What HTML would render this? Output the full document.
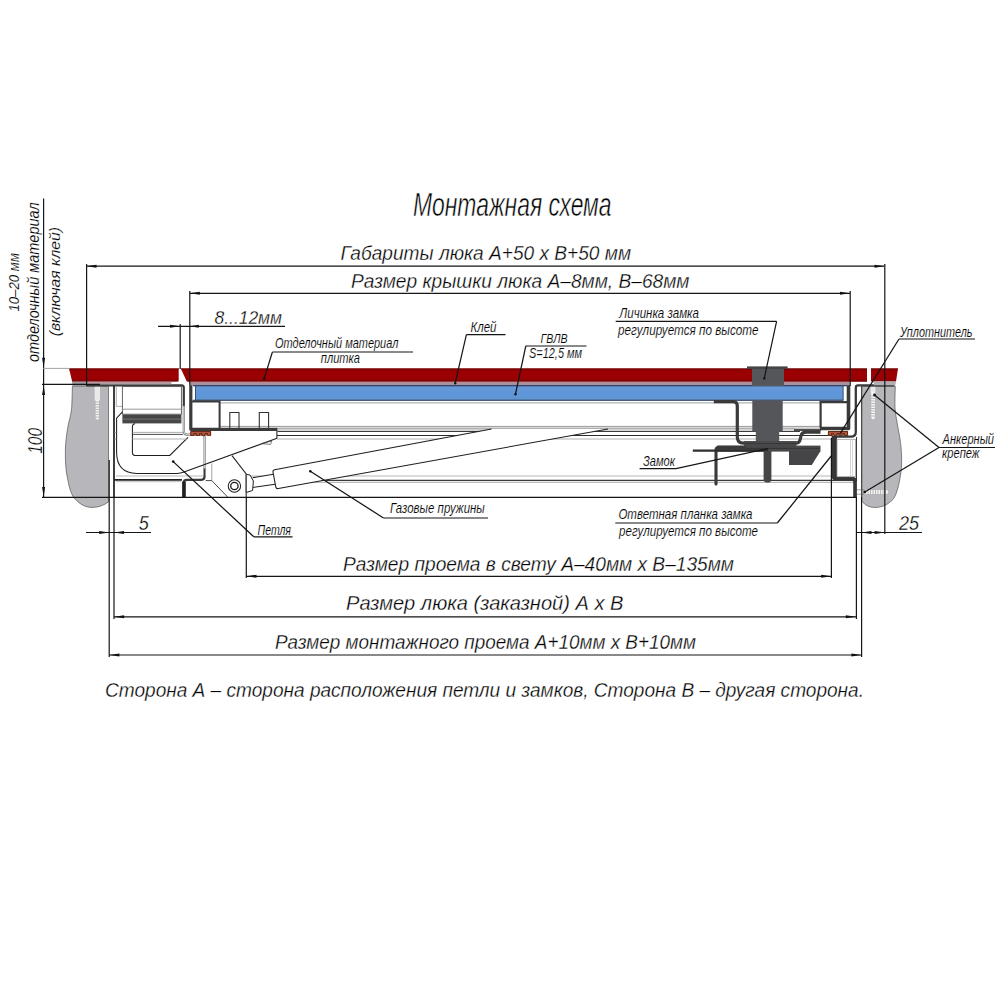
<!DOCTYPE html>
<html><head><meta charset="utf-8"><title>Монтажная схема</title>
<style>
html,body{margin:0;padding:0;background:#fff;}
body{width:1000px;height:1000px;overflow:hidden;}
svg{display:block;}
text{font-family:"Liberation Sans",sans-serif;font-style:italic;fill:#000;}
</style></head><body>
<svg width="1000" height="1000" viewBox="0 0 1000 1000">
<rect width="1000" height="1000" fill="#fff"/>
<path d="M72.4,386.3 C72.2,395 72,402 71.7,408 C71,414 70,418 68.9,422 C67.8,427 67,432 66.5,436 C65.8,442 65.4,446 65.4,450 C65.3,456 65.4,460 65.7,464 C66,470 66.6,474 67.5,478 C68.5,484 69.5,488 71,492 C72.5,496 74,498.5 76.6,500.4 C81,505 86,507.4 92,507.4 C99,507.4 104.5,505 108.5,501.8 L108.5,386.3 Z" fill="#b7b7bb" stroke="#555" stroke-width="0.7"/>
<path d="M861.7,386.3 L895.3,386.3 C895,395 894.8,402 895,408 C895.5,414 896.2,418 897,422 C898,428 898.8,432 899.5,436 C900.5,442 901,446 901.2,450 C901.6,455 901.8,460 901.6,464 C901.4,470 900.8,474 900,478 C899,484 898,488 896.7,492 C895,497 893,500 890.4,501.8 C886,505.5 881,507.5 875,507.5 C869,507.5 865,505 862.4,501.8 L861.7,501 Z" fill="#b7b7bb" stroke="#555" stroke-width="0.7"/>
<rect x="94.6" y="386.5" width="5.4" height="14" fill="#e9e9e9"/>
<path d="M95.6,400 L99,400 L99,418.5 L97.3,420 L95.6,418.5 Z" fill="#f2f2f2"/>
<path d="M95.2,402 h4.2 M95.2,404.5 h4.2 M95.2,407 h4.2 M95.2,409.5 h4.2 M95.2,412 h4.2 M95.2,414.5 h4.2 M95.2,417 h4.2" stroke="#a8a8a8" stroke-width="0.8"/>
<rect x="870.6" y="386.5" width="4.8" height="6" fill="#e9e9e9"/>
<path d="M871.2,392 L875,392 L875,418 L873.1,419.5 L871.2,418 Z" fill="#f4f4f4"/>
<path d="M870.8,396 h4.6 M870.8,398.5 h4.6 M870.8,401 h4.6 M870.8,403.5 h4.6 M870.8,406 h4.6 M870.8,408.5 h4.6 M870.8,411 h4.6 M870.8,413.5 h4.6 M870.8,416 h4.6" stroke="#a8a8a8" stroke-width="0.8"/>
<path d="M864,490 L887,490 L888.5,492 L887,494 L864,494 Z" fill="#f4f4f4"/>
<path d="M857,489.8 H864 M857,494.2 H864" stroke="#777" stroke-width="0.7" fill="none"/>
<path d="M868,489.6 v4.8 M870.5,489.6 v4.8 M873,489.6 v4.8 M875.5,489.6 v4.8 M878,489.6 v4.8 M880.5,489.6 v4.8 M883,489.6 v4.8 M885.5,489.6 v4.8" stroke="#a8a8a8" stroke-width="0.8"/>
<line x1="220" y1="402.8" x2="820" y2="402.8" stroke="#aeb6bd" stroke-width="1.2" />
<line x1="219" y1="426.4" x2="820" y2="426.4" stroke="#9a9a9a" stroke-width="1" />
<rect x="277.5" y="428" width="517" height="3.2" fill="#d4d4d4"/>
<line x1="277.5" y1="428.1" x2="820" y2="428.1" stroke="#8a8a8a" stroke-width="0.8" />
<line x1="277.5" y1="431.5" x2="800" y2="431.5" stroke="#3c3c3c" stroke-width="1" />
<line x1="277" y1="435.5" x2="833" y2="435.5" stroke="#2c2c2c" stroke-width="1.1" />
<line x1="277" y1="439" x2="833" y2="439" stroke="#b0b0b0" stroke-width="1" />
<line x1="116" y1="476" x2="856" y2="476" stroke="#cfcfcf" stroke-width="1.5" />
<line x1="246" y1="480.4" x2="856" y2="480.4" stroke="#3a3a3a" stroke-width="1.2" />
<line x1="246" y1="482.3" x2="856" y2="482.3" stroke="#a0a0a0" stroke-width="0.9" />
<path d="M87,385.3 L181.5,385.3 Q183.8,385.3 183.8,387.6 L183.8,406.5" fill="none" stroke="#3a3a3a" stroke-width="2.2"/>
<path d="M183.8,406 L183.8,431 Q183.8,434.6 187.4,434.6 L201.6,434.6 Q204.6,434.6 204.6,437.6 L204.6,469" fill="none" stroke="#777" stroke-width="2.2"/>
<path d="M183.8,406 L183.8,431 Q183.8,434.6 187.4,434.6 L201.6,434.6 Q204.6,434.6 204.6,437.6 L204.6,469" fill="none" stroke="#e4e4e4" stroke-width="0.9"/>
<path d="M204.6,468.5 L204.6,476.6 Q204.6,479.8 201.4,479.8 L187,479.8 Q183.6,479.8 183.6,483 L183.6,497" fill="none" stroke="#3a3a3a" stroke-width="2.2"/>
<rect x="182.2" y="481.5" width="3.6" height="15.5" fill="#222"/>
<line x1="114" y1="386" x2="114" y2="497" stroke="#1c1c1c" stroke-width="1.7" />
<line x1="116.3" y1="387" x2="116.3" y2="406.4" stroke="#9a9a9a" stroke-width="0.8" />
<line x1="116.3" y1="406.4" x2="122.4" y2="406.4" stroke="#9a9a9a" stroke-width="0.8" />
<rect x="122.4" y="386.6" width="59" height="27.6" fill="#fff" stroke="#555" stroke-width="0.9"/>
<line x1="122.4" y1="409.2" x2="181.4" y2="409.2" stroke="#8c8c8c" stroke-width="0.9" />
<rect x="122.4" y="414.6" width="59" height="8.8" fill="#474747"/>
<line x1="122.4" y1="419.1" x2="181.4" y2="419.1" stroke="#7b7b7b" stroke-width="0.9" />
<path d="M122.4,411.8 L116.6,418.2 L116.6,452 Q116.6,473.4 137,473.4 L177,473.4 Q180.5,473.4 184,472 L277,438.3" fill="none" stroke="#1e1e1e" stroke-width="1.05"/>
<path d="M188,437.4 L169.8,455.4 L135,455.4 Q132.4,455.4 132.4,452.8 L132.4,427 Q132.4,423.8 135.2,423.8" fill="none" stroke="#1e1e1e" stroke-width="1.05"/>
<line x1="132.4" y1="432.4" x2="183" y2="432.4" stroke="#9a9a9a" stroke-width="0.8" />
<line x1="132.4" y1="434.4" x2="183" y2="434.4" stroke="#3a3a3a" stroke-width="0.9" />
<line x1="132.4" y1="439" x2="187" y2="439" stroke="#aaaaaa" stroke-width="0.9" />
<line x1="114" y1="432.4" x2="116.6" y2="432.4" stroke="#777" stroke-width="0.8" />
<line x1="114" y1="439" x2="116.6" y2="439" stroke="#777" stroke-width="0.8" />
<line x1="114" y1="479.8" x2="182" y2="479.8" stroke="#222" stroke-width="1.8" />
<line x1="116" y1="481.7" x2="181" y2="481.7" stroke="#b0b0b0" stroke-width="0.8" />
<polygon points="205.8,465.5 232,455.6 246.2,474 246.2,496.8 227.6,496.8 211.8,480.6 205.8,480.6" fill="#fff"/>
<path d="M232,455.6 L246.2,474 L246.2,497" fill="none" stroke="#1e1e1e" stroke-width="1.05"/>
<path d="M211.8,463.5 L211.8,480.6" fill="none" stroke="#9a9a9a" stroke-width="0.9"/>
<path d="M205.6,480.6 L211.8,480.6 L227.6,497" fill="none" stroke="#333" stroke-width="0.9"/>
<circle cx="234.4" cy="486" r="6.2" fill="#fff" stroke="#1e1e1e" stroke-width="1.05"/>
<circle cx="234.4" cy="486" r="3.7" fill="#fff" stroke="#1a1a1a" stroke-width="1.3"/>
<path d="M252.6,477.7 L273.5,474.3 L276.8,484 L252.6,487.4 Z" fill="#fff" stroke="none"/>
<path d="M252.6,477.7 L273.5,474.3 M252.6,487.4 L277,484" fill="none" stroke="#1e1e1e" stroke-width="1.05"/>
<path d="M246.2,474.4 L250,475 L253.4,481 L252.6,490.5 L246.2,492.5 Z" fill="#fff" stroke="#222" stroke-width="1"/>
<path d="M491.5,429 L274.6,469.7 Q272.6,470.2 273,472.2 L275.8,487 Q276.3,489 278.4,488.5 L608,429" fill="#fff" stroke="#1e1e1e" stroke-width="1.05"/>
<defs><linearGradient id="bg" x1="0" y1="0" x2="0" y2="1"><stop offset="0" stop-color="#6a9ad4"/><stop offset="0.55" stop-color="#5d96dc"/><stop offset="1" stop-color="#6396cc"/></linearGradient></defs>
<rect x="195.6" y="386" width="647.4" height="14.2" fill="url(#bg)"/>
<line x1="193" y1="385.7" x2="849" y2="385.7" stroke="#1b2b52" stroke-width="1.2" />
<line x1="193" y1="400.3" x2="843.5" y2="400.3" stroke="#1b2b52" stroke-width="1.1" />
<line x1="195.5" y1="386" x2="195.5" y2="400" stroke="#1b2b52" stroke-width="0.8" />
<line x1="843.2" y1="386" x2="843.2" y2="400" stroke="#1b2b52" stroke-width="0.8" />
<path d="M190.8,385 L190.8,429.3 L277.5,429.3" fill="none" stroke="#3a3a3a" stroke-width="3.2" stroke-linejoin="round"/>
<path d="M192,401.6 L219.6,401.6 L219.6,428" fill="none" stroke="#3a3a3a" stroke-width="2"/>
<path d="M229.8,428 V412.5 H239 V428 M259.3,428 V412.5 H268.6 V428" fill="none" stroke="#333" stroke-width="1.1"/>
<path d="M276.9,431 L276.9,438.3" stroke="#1e1e1e" stroke-width="1.05" fill="none"/>
<path d="M261.2,443.6 L271.6,441 L270.6,444.4 Z" fill="none" stroke="#444" stroke-width="0.7"/>
<rect x="190.4" y="431" width="20.7" height="4.6" fill="#b85a40"/>
<path d="M190.6,431.6 h20.3 M190.8,432 v3.4 h3 v-1.8 h2.6 v1.8 h3 v-1.8 h2.6 v1.8 h3 v-1.8 h2.6 v1.8 h3 v-3.4" fill="none" stroke="#55200f" stroke-width="0.9"/>
<path d="M848.5,385 L848.5,428.5 L820,428.5" fill="none" stroke="#3a3a3a" stroke-width="3.6" stroke-linejoin="round"/>
<line x1="794" y1="430" x2="821" y2="430" stroke="#3a3a3a" stroke-width="1.8" />
<path d="M848,402.2 L820.6,402.2 L820.6,428" fill="none" stroke="#3a3a3a" stroke-width="2.2"/>
<rect x="828" y="431" width="20" height="4.6" fill="#b85a40"/>
<path d="M828.2,431.6 h19.6 M828.4,432 v3.4 h3 v-1.8 h2.4 v1.8 h3 v-1.8 h2.4 v1.8 h3 v-1.8 h2.4 v1.8 h3 v-3.4" fill="none" stroke="#55200f" stroke-width="0.9"/>
<path d="M894.5,385.4 L858,385.4 Q855.8,385.4 855.8,387.7 L855.8,432 Q855.8,436.6 851,436.6 L835,436.6" fill="none" stroke="#3a3a3a" stroke-width="2.3"/>
<path d="M831.6,436 L837,436 L837,477 L853,477 Q856.9,477 856.9,481 L856.9,497 L853.2,497 L853.2,482 Q853.2,480.2 851.5,480.2 L835.5,480.2 Q831.6,480.2 831.6,476.5 Z" fill="#363636"/>
<rect x="837" y="439.3" width="18.6" height="37.4" fill="#fff" stroke="#9a9a9a" stroke-width="0.8"/>
<line x1="850.5" y1="439.5" x2="850.5" y2="476.5" stroke="#c8c8c8" stroke-width="0.8" />
<line x1="852.6" y1="439.5" x2="852.6" y2="476.5" stroke="#c8c8c8" stroke-width="0.8" />
<line x1="861.6" y1="386" x2="861.6" y2="497" stroke="#4a4a4a" stroke-width="1.2" />
<line x1="861.6" y1="497" x2="861.6" y2="657" stroke="#151515" stroke-width="1.2" />
<path d="M713.8,401.6 L733,401.6 Q737.3,401.6 737.3,406 L737.3,437 Q737.3,443.2 743.5,443.2 L795.5,443.2 Q799.5,443.2 800.3,439 L801,436 Q801.8,432.2 806,432.2 L820.5,432.2" fill="none" stroke="#3a3a3a" stroke-width="3.2"/>
<rect x="752.3" y="400.6" width="30.4" height="30.8" fill="#55565a"/>
<rect x="755.8" y="431" width="23.4" height="10.5" fill="#55565a"/>
<rect x="744" y="441" width="52.5" height="5.2" fill="#4a4a4c"/>
<rect x="717" y="445.6" width="103.5" height="6" fill="#48484a"/>
<line x1="744" y1="443.6" x2="796" y2="443.6" stroke="#2c2c2c" stroke-width="0.7" />
<line x1="717" y1="448.4" x2="820" y2="448.4" stroke="#2c2c2c" stroke-width="0.7" />
<path d="M744,447.4 L719,447.4 Q716,447.4 716,450.4 L716,484" fill="none" stroke="#3a3a3a" stroke-width="3.1" stroke-linecap="round"/>
<line x1="692.8" y1="450.6" x2="768" y2="450.6" stroke="#2e2e2e" stroke-width="2.4" />
<path d="M763.6,451 L771.4,451 L771.4,479.5 Q771.4,482.6 767.5,482.6 Q763.6,482.6 763.6,479.5 Z" fill="#454547"/>
<path d="M789,451 L820.5,451 L811.8,465 L789,465 Z" fill="#454547"/>
<rect x="752" y="368.5" width="32" height="17.4" fill="#55565a"/>
<defs><linearGradient id="rg" x1="0" y1="0" x2="0" y2="1"><stop offset="0" stop-color="#7c0507"/><stop offset="0.22" stop-color="#9b0002"/><stop offset="0.75" stop-color="#9b0002"/><stop offset="1" stop-color="#7c0507"/></linearGradient><linearGradient id="pg" x1="0" y1="0" x2="0" y2="1"><stop offset="0" stop-color="#bf8a92"/><stop offset="1" stop-color="#9a93a6"/></linearGradient></defs>
<path d="M69,368.5 L178.7,368.5 L178.7,380.4 Q178.7,381.6 177.5,381.6 L72.2,381.6 Z" fill="url(#rg)"/>
<polygon points="72.2,381.6 171.4,381.6 171.4,384.2 72.8,384.2" fill="#b79a9f"/>
<rect x="72.4" y="382" width="13.5" height="4.2" fill="#9c9a9e"/>
<polygon points="180.8,368.5 867,368.5 867,381.6 186.8,381.6" fill="url(#rg)"/>
<polygon points="189.6,381.6 849.8,381.6 849.8,385.3 189.6,385.3" fill="url(#pg)"/>
<polygon points="871,368.5 898,368.5 896,381.6 871,381.6" fill="url(#rg)"/>
<polygon points="873.6,381.6 896,381.6 895.3,385.2 873.6,385.2" fill="#b3aeb2"/>
<line x1="69" y1="368.9" x2="179" y2="368.9" stroke="#7a0808" stroke-width="0.9" />
<line x1="181" y1="368.9" x2="867" y2="368.9" stroke="#7a0808" stroke-width="0.9" />
<line x1="871" y1="368.9" x2="898" y2="368.9" stroke="#7a0808" stroke-width="0.9" />
<line x1="72" y1="381.2" x2="177.5" y2="381.2" stroke="#7a0808" stroke-width="0.6" />
<line x1="187.5" y1="381.2" x2="867" y2="381.2" stroke="#7a0808" stroke-width="0.9" />
<rect x="752" y="368.5" width="32" height="17.2" fill="#55565a"/>
<rect x="747" y="366.4" width="40.6" height="2.6" fill="#444446"/>
<line x1="43.6" y1="198.5" x2="43.6" y2="497.5" stroke="#151515" stroke-width="1.2" />
<polygon points="43.6,367.8 42.1,357.8 45.1,357.8" fill="#111"/>
<polygon points="43.6,385 42.1,395 45.1,395" fill="#111"/>
<polygon points="43.6,497 42.1,487 45.1,487" fill="#111"/>
<line x1="43" y1="368.4" x2="70" y2="368.4" stroke="#9a9a9a" stroke-width="0.9" />
<line x1="42" y1="384.4" x2="100" y2="384.4" stroke="#151515" stroke-width="1.2" />
<line x1="42" y1="497.4" x2="856.8" y2="497.4" stroke="#151515" stroke-width="1.2" />
<line x1="86.5" y1="266.2" x2="884.5" y2="266.2" stroke="#151515" stroke-width="1.2" />
<polygon points="86.5,266.2 96.5,264.7 96.5,267.7" fill="#111"/>
<polygon points="884.5,266.2 874.5,264.7 874.5,267.7" fill="#111"/>
<line x1="86.6" y1="264" x2="86.6" y2="386" stroke="#151515" stroke-width="1.2" />
<line x1="884.8" y1="264" x2="884.8" y2="534" stroke="#151515" stroke-width="1.2" />
<line x1="189.8" y1="293.3" x2="850" y2="293.3" stroke="#151515" stroke-width="1.2" />
<polygon points="189.8,293.3 199.8,291.8 199.8,294.8" fill="#111"/>
<polygon points="850,293.3 840,291.8 840,294.8" fill="#111"/>
<line x1="189.8" y1="291" x2="189.8" y2="385" stroke="#151515" stroke-width="1.2" />
<line x1="850.2" y1="291" x2="850.2" y2="386" stroke="#151515" stroke-width="1.2" />
<line x1="158" y1="326.3" x2="285" y2="326.3" stroke="#151515" stroke-width="1.2" />
<polygon points="180,326.3 170,324.8 170,327.8" fill="#111"/>
<polygon points="189.8,326.3 198.8,324.8 198.8,327.8" fill="#111"/>
<line x1="180.2" y1="324" x2="180.2" y2="369" stroke="#151515" stroke-width="1.2" />
<line x1="86" y1="532.5" x2="151" y2="532.5" stroke="#151515" stroke-width="1.2" />
<polygon points="109.2,532.5 99.2,531.0 99.2,534.0" fill="#111"/>
<polygon points="114,532.5 124,531.0 124,534.0" fill="#111"/>
<line x1="109.2" y1="460" x2="109.2" y2="657" stroke="#151515" stroke-width="1.2" />
<line x1="114" y1="497" x2="114" y2="619" stroke="#151515" stroke-width="1.2" />
<line x1="857" y1="532.5" x2="922" y2="532.5" stroke="#151515" stroke-width="1.2" />
<polygon points="861.5,532.5 871.5,531.0 871.5,534.0" fill="#111"/>
<polygon points="884.6,532.5 874.6,531.0 874.6,534.0" fill="#111"/>
<line x1="856.5" y1="437" x2="856.5" y2="481" stroke="#222" stroke-width="0.9" />
<line x1="856.4" y1="497" x2="856.4" y2="619" stroke="#151515" stroke-width="1.2" />
<line x1="246.3" y1="497" x2="246.3" y2="578" stroke="#151515" stroke-width="1.2" />
<line x1="831.4" y1="438" x2="831.4" y2="578" stroke="#151515" stroke-width="1.2" />
<line x1="246.3" y1="576.3" x2="831.4" y2="576.3" stroke="#151515" stroke-width="1.2" />
<polygon points="246.5,576.3 256.5,574.8 256.5,577.8" fill="#111"/>
<polygon points="831.2,576.3 821.2,574.8 821.2,577.8" fill="#111"/>
<line x1="114" y1="616.8" x2="856" y2="616.8" stroke="#151515" stroke-width="1.2" />
<polygon points="114.2,616.8 124.2,615.3 124.2,618.3" fill="#111"/>
<polygon points="855.8,616.8 845.8,615.3 845.8,618.3" fill="#111"/>
<line x1="109.2" y1="655" x2="861.6" y2="655" stroke="#151515" stroke-width="1.2" />
<polygon points="109.4,655 119.4,653.5 119.4,656.5" fill="#111"/>
<polygon points="861.4,655 851.4,653.5 851.4,656.5" fill="#111"/>
<line x1="272.4" y1="352" x2="413" y2="352" stroke="#151515" stroke-width="1.2" />
<line x1="272.4" y1="352" x2="264.2" y2="378.5" stroke="#151515" stroke-width="1.2" />
<circle cx="264.2" cy="378.8" r="1.2" fill="#111"/>
<line x1="466.4" y1="334.6" x2="505.5" y2="334.6" stroke="#151515" stroke-width="1.2" />
<line x1="466.4" y1="334.6" x2="455.2" y2="383" stroke="#151515" stroke-width="1.2" />
<circle cx="455.2" cy="383.2" r="1.2" fill="#111"/>
<line x1="525.8" y1="346" x2="586.5" y2="346" stroke="#151515" stroke-width="1.2" />
<line x1="525.8" y1="346" x2="515.5" y2="394" stroke="#151515" stroke-width="1.2" />
<circle cx="515.5" cy="394.3" r="1.2" fill="#111"/>
<line x1="615.7" y1="321.3" x2="776.6" y2="321.3" stroke="#151515" stroke-width="1.2" />
<line x1="776.6" y1="321.3" x2="764.3" y2="378.2" stroke="#151515" stroke-width="1.2" />
<circle cx="764.3" cy="378.4" r="1.2" fill="#111"/>
<line x1="899" y1="339" x2="975" y2="339" stroke="#151515" stroke-width="1.2" />
<line x1="899" y1="339" x2="840" y2="433.8" stroke="#151515" stroke-width="1.25" />
<line x1="939" y1="447.5" x2="995" y2="447.5" stroke="#151515" stroke-width="1.2" />
<line x1="939" y1="447.5" x2="874.5" y2="395" stroke="#151515" stroke-width="1.25" />
<circle cx="874.5" cy="395" r="1.4" fill="#111"/>
<line x1="939" y1="447.5" x2="864.8" y2="492" stroke="#151515" stroke-width="1.25" />
<circle cx="864.8" cy="492" r="1.4" fill="#111"/>
<line x1="639.6" y1="468.6" x2="676" y2="468.6" stroke="#151515" stroke-width="1.2" />
<line x1="676" y1="468.6" x2="768" y2="448.6" stroke="#151515" stroke-width="1.25" />
<line x1="615.3" y1="523" x2="777.3" y2="523" stroke="#151515" stroke-width="1.2" />
<line x1="777.3" y1="523" x2="831.2" y2="456" stroke="#151515" stroke-width="1.25" />
<line x1="383.5" y1="518" x2="488" y2="518" stroke="#151515" stroke-width="1.2" />
<line x1="383.5" y1="518" x2="310.3" y2="471.2" stroke="#151515" stroke-width="1.25" />
<circle cx="310.3" cy="471.2" r="1.3" fill="#111"/>
<line x1="253.8" y1="536.8" x2="292.5" y2="536.8" stroke="#151515" stroke-width="1.2" />
<line x1="253.8" y1="536.8" x2="173.2" y2="461.6" stroke="#151515" stroke-width="1.25" />
<circle cx="173.2" cy="461.6" r="1.3" fill="#111"/>
<text x="413" y="216" font-size="32.5" textLength="198.5" lengthAdjust="spacingAndGlyphs" stroke="#fff" stroke-width="0.55" >Монтажная схема</text>
<text x="340.6" y="260" font-size="19.5" textLength="290.4" lengthAdjust="spacingAndGlyphs" stroke="#fff" stroke-width="0.3" >Габариты люка А+50 х В+50 мм</text>
<text x="351" y="287.6" font-size="19.5" textLength="338.5" lengthAdjust="spacingAndGlyphs" stroke="#fff" stroke-width="0.3" >Размер крышки люка А–8мм, В–68мм</text>
<text x="214.5" y="323.8" font-size="18.5" textLength="67.5" lengthAdjust="spacingAndGlyphs" stroke="#fff" stroke-width="0.3" >8...12мм</text>
<text x="275" y="348" font-size="15" textLength="123.4" lengthAdjust="spacingAndGlyphs" stroke="#fff" stroke-width="0.15" >Отделочный материал</text>
<text x="320.8" y="363" font-size="15" textLength="39.2" lengthAdjust="spacingAndGlyphs" stroke="#fff" stroke-width="0.15" >плитка</text>
<text x="470.4" y="332.4" font-size="14" textLength="26.1" lengthAdjust="spacingAndGlyphs" stroke="#fff" stroke-width="0.15" >Клей</text>
<text x="540.6" y="343" font-size="13" textLength="27.0" lengthAdjust="spacingAndGlyphs" stroke="#fff" stroke-width="0.15" >ГВЛВ</text>
<text x="529" y="358" font-size="14.5" textLength="53" lengthAdjust="spacingAndGlyphs" stroke="#fff" stroke-width="0.15" >S=12,5 мм</text>
<text x="619.3" y="318.4" font-size="14.5" textLength="79.7" lengthAdjust="spacingAndGlyphs" stroke="#fff" stroke-width="0.15" >Личинка замка</text>
<text x="618" y="335.3" font-size="14.5" textLength="140.6" lengthAdjust="spacingAndGlyphs" stroke="#fff" stroke-width="0.15" >регулируется по высоте</text>
<text x="900" y="337" font-size="15" textLength="72.5" lengthAdjust="spacingAndGlyphs" stroke="#fff" stroke-width="0.15" >Уплотнитель</text>
<text x="942.5" y="444" font-size="15.5" textLength="51.5" lengthAdjust="spacingAndGlyphs" stroke="#fff" stroke-width="0.15" >Анкерный</text>
<text x="942" y="458.2" font-size="15.5" textLength="37.5" lengthAdjust="spacingAndGlyphs" stroke="#fff" stroke-width="0.15" >крепеж</text>
<text x="643" y="466" font-size="15" textLength="32" lengthAdjust="spacingAndGlyphs" stroke="#fff" stroke-width="0.15" >Замок</text>
<text x="390" y="513.4" font-size="14.5" textLength="94.8" lengthAdjust="spacingAndGlyphs" stroke="#fff" stroke-width="0.15" >Газовые пружины</text>
<text x="618.4" y="519.3" font-size="14.5" textLength="134.1" lengthAdjust="spacingAndGlyphs" stroke="#fff" stroke-width="0.15" >Ответная планка замка</text>
<text x="619" y="536.4" font-size="14.5" textLength="139" lengthAdjust="spacingAndGlyphs" stroke="#fff" stroke-width="0.15" >регулируется по высоте</text>
<text x="257.5" y="535" font-size="15" textLength="33.5" lengthAdjust="spacingAndGlyphs" stroke="#fff" stroke-width="0.15" >Петля</text>
<text x="138.8" y="530" font-size="20" textLength="10.0" lengthAdjust="spacingAndGlyphs" stroke="#fff" stroke-width="0.3" >5</text>
<text x="899" y="529.5" font-size="19.5" textLength="20" lengthAdjust="spacingAndGlyphs" stroke="#fff" stroke-width="0.3" >25</text>
<text x="343" y="571" font-size="20" textLength="391" lengthAdjust="spacingAndGlyphs" stroke="#fff" stroke-width="0.3" >Размер проема в свету А–40мм х В–135мм</text>
<text x="346" y="609.9" font-size="20.3" textLength="277.4" lengthAdjust="spacingAndGlyphs" stroke="#fff" stroke-width="0.3" >Размер люка (заказной) А х В</text>
<text x="275" y="649" font-size="20" textLength="421" lengthAdjust="spacingAndGlyphs" stroke="#fff" stroke-width="0.3" >Размер монтажного проема А+10мм х В+10мм</text>
<text x="105" y="697" font-size="19.5" textLength="759" lengthAdjust="spacingAndGlyphs" stroke="#fff" stroke-width="0.3" >Сторона А – сторона расположения петли и замков, Сторона В – другая сторона.</text>
<text transform="translate(18.7,311.6) rotate(-90)" x="0" y="0" font-size="15" textLength="58.6" lengthAdjust="spacingAndGlyphs" stroke="#fff" stroke-width="0.15">10–20 мм</text>
<text transform="translate(39.3,362) rotate(-90)" x="0" y="0" font-size="16.5" textLength="159.6" lengthAdjust="spacingAndGlyphs" stroke="#fff" stroke-width="0.15">отделочный материал</text>
<text transform="translate(59.6,336.3) rotate(-90)" x="0" y="0" font-size="15" textLength="109.3" lengthAdjust="spacingAndGlyphs" stroke="#fff" stroke-width="0.15">(включая клей)</text>
<text transform="translate(41.6,453.7) rotate(-90)" x="0" y="0" font-size="20" textLength="25.7" lengthAdjust="spacingAndGlyphs" stroke="#fff" stroke-width="0.3">100</text>
</svg>
</body></html>
